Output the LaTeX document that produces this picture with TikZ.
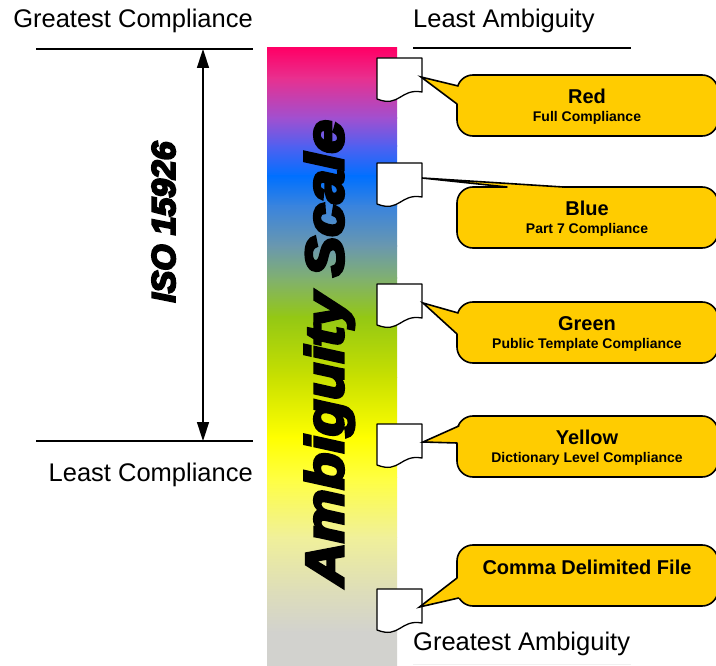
\documentclass[tikz,border=0pt]{standalone}
\usepackage{fontspec}
\setmainfont{Liberation Sans}
\newfontfamily\heavy{Liberation Sans}[BoldItalicFeatures={FakeBold=6}]
\usetikzlibrary{arrows.meta}
\definecolor{callfill}{HTML}{FFCC00}
\definecolor{g1}{HTML}{FF0066}
\definecolor{g2}{HTML}{E8308F}
\definecolor{g3}{HTML}{A050D0}
\definecolor{g4}{HTML}{5060F0}
\definecolor{g5}{HTML}{0070FF}
\definecolor{g6}{HTML}{3A84DD}
\definecolor{g7}{HTML}{6A98AE}
\definecolor{g8}{HTML}{80B070}
\definecolor{g9}{HTML}{94C814}
\definecolor{g10}{HTML}{C8E000}
\definecolor{g11}{HTML}{FFFF00}
\definecolor{g12}{HTML}{FFFF40}
\definecolor{g13}{HTML}{F0F09A}
\definecolor{g14}{HTML}{DEDEB8}
\definecolor{g15}{HTML}{D2D2CE}
\newcommand\docicon[1]{%
  \draw[docstyle] (377,#1) -- (422,#1) -- (422,#1+34)
    .. controls (400,#1+30) and (400,#1+50) .. (377,#1+41) -- cycle;}
\newcommand\cbox[1]{\draw[callbox] (457,#1) rectangle (718,#1+61);}
\begin{document}
\begin{tikzpicture}[x=1pt,y=-1pt,
  docstyle/.style={draw=black,fill=white,line width=1.3pt,line join=round},
  callbox/.style={draw=black,fill=callfill,line width=1.6pt,rounded corners=16pt},
  pfill/.style={fill=callfill},
  pline/.style={draw=black,line width=1.6pt,line cap=round},
  rule/.style={line width=1.6pt},
  bigtxt/.style={inner sep=0pt,font=\fontsize{25.5}{30}\selectfont},
  cname/.style={inner sep=0pt,anchor=base,font=\fontsize{20}{24}\selectfont\bfseries},
  csub/.style={inner sep=0pt,anchor=base,font=\fontsize{14}{17}\selectfont\bfseries}]
\useasboundingbox (0,0) rectangle (716,666);
\fill[white] (0,0) rectangle (716,666);
% gradient bar
\foreach \ya/\ca/\yb/\cb in {48/g1/78/g2, 78/g2/118/g3, 118/g3/146/g4, 146/g4/176/g5,
  176/g5/206/g6, 206/g6/246/g7, 246/g7/278/g8, 278/g8/317/g9, 317/g9/377/g10,
  377/g10/437/g11, 437/g11/477/g12, 477/g12/537/g13, 537/g13/589/g14,
  589/g14/632/g15, 632/g15/666/g15}
  \shade[top color=\ca, bottom color=\cb] (267,\ya) rectangle (397,\yb+0.6);
% left labels, rules, arrow
\node[bigtxt,anchor=base east] (gc) at (253,28) {Greatest Compliance};
\node[bigtxt,anchor=base east] (lc) at (253,481) {Least Compliance};
\node[bigtxt,anchor=base west] (la) at (413,28) {Least Ambiguity};
\node[bigtxt,anchor=base west] (ga) at (413,650) {Greatest Ambiguity};
\coordinate (ltop) at (36,49);
\coordinate (rtop) at (253,49);
\coordinate (lbot) at (36,441);
\coordinate (rbot) at (253,441);
\coordinate (arrtop) at (203,49);
\coordinate (arrbot) at (203,441);
\draw[rule] (ltop) -- (rtop);
\draw[rule] (lbot) -- (rbot);
\draw[rule] (413,48) -- (631,48);
\draw[gray!12,line width=1.2pt] (413,664.5) -- (631,664.5);
\draw[line width=1.5pt,{Triangle[width=12pt,length=19pt]}-{Triangle[width=12pt,length=19pt]}] (arrtop) -- (arrbot);
\node[rotate=90,anchor=base,inner sep=0pt] (iso) at (175,222)
  {\heavy\bfseries\itshape\fontsize{33}{38}\selectfont\scalebox{1.02}[1]{ISO 15926}};
\node[rotate=90,anchor=base,inner sep=0pt] (scale) at (343,353)
  {\heavy\bfseries\itshape\fontsize{53}{60}\selectfont\scalebox{1.13}[1]{Ambiguity Scale}};
% document icons
\docicon{58}
\docicon{163}
\docicon{284}
\docicon{424}
\docicon{589}
% callouts
\cbox{75}
\fill[pfill] (421,77) -- (458.2,86) -- (466,86) -- (466,104) -- (457,104) -- cycle;
\draw[pline] (458.2,86) -- (421,77) -- (457,104);
\node[cname] (red) at (587,103.5) {Red};
\node[csub] (redsub) at (587,121.5) {Full Compliance};
\cbox{187}
\fill[pfill] (422,178) -- (563,187) -- (563,195) -- (507,195) -- (507,187) -- cycle;
\draw[pline] (563,187) -- (422,178) -- (507,187);
\node[cname] (blue) at (587,215.5) {Blue};
\node[csub] (bluesub) at (587,233.5) {Part 7 Compliance};
\cbox{302}
\fill[pfill] (423,303) -- (458.2,313) -- (466,313) -- (466,334) -- (457,334) -- cycle;
\draw[pline] (458.2,313) -- (423,303) -- (457,334);
\node[cname] (green) at (587,330.5) {Green};
\node[csub] (greensub) at (587,348.5) {Public Template Compliance};
\cbox{416}
\fill[pfill] (423,442) -- (458.8,426) -- (466,426) -- (466,443) -- (457,443) -- cycle;
\draw[pline] (458.8,426) -- (423,442) -- (457,443);
\node[cname] (yellow) at (587,444.5) {Yellow};
\node[csub] (yellowsub) at (587,462.5) {Dictionary Level Compliance};
\cbox{545}
\fill[pfill] (419.5,607) -- (457,578) -- (466,578) -- (466,598) -- (458.6,598) -- cycle;
\draw[pline] (457,578) -- (419.5,607) -- (458.6,598);
\node[cname] (comma) at (587,574) {Comma Delimited File};
\end{tikzpicture}
\end{document}
